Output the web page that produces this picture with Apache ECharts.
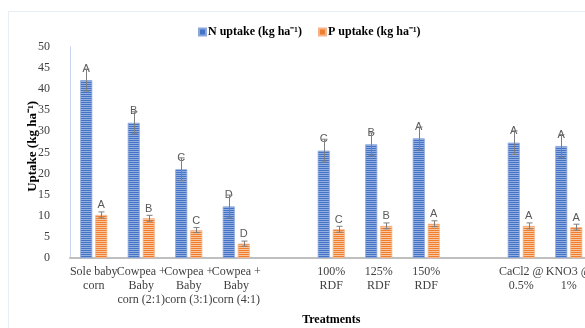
<!DOCTYPE html>
<html>
<head>
<meta charset="utf-8">
<script src="https://cdn.jsdelivr.net/npm/echarts@6/dist/echarts.min.js"></script>
<style>
html,body{margin:0;padding:0;background:#fff;}
#chart{width:585px;height:328px;}
</style>
</head>
<body>
<div id="chart"></div>
<script>
// ---- data ----
const categories = ['Sole baby\ncorn', 'Cowpea +\nBaby\ncorn (2:1)', 'Cowpea +\nBaby\ncorn (3:1)', 'Cowpea +\nBaby\ncorn (4:1)', '', '100%\nRDF', '125%\nRDF', '150%\nRDF', '', 'CaCl2 @\n0.5%', 'KNO3 @\n1%'];
const nUptake = [42.1, 32.0, 21.0, 12.2, null, 25.4, 26.9, 28.3, null, 27.3, 26.5];
const nErr    = [2.6, 2.6, 2.7, 2.7, null, 2.7, 2.7, 2.7, null, 2.8, 2.7];
const nLetters = ['A', 'B', 'C', 'D', '', 'C', 'B', 'A', '', 'A', 'A'];
const pUptake = [10.2, 9.4, 6.6, 3.4, null, 6.8, 7.6, 8.1, null, 7.6, 7.3];
const pErr    = [0.7, 0.7, 0.6, 0.6, null, 0.7, 0.7, 0.7, null, 0.7, 0.7];
const pLetters = ['A', 'B', 'C', 'D', '', 'C', 'B', 'A', '', 'A', 'A'];
const yTicks = [0, 5, 10, 15, 20, 25, 30, 35, 40, 45, 50];

function stripe(dark, light) {
  const c = document.createElement('canvas');
  c.width = 2; c.height = 2;
  const g = c.getContext('2d');
  g.fillStyle = dark; g.fillRect(0, 0, 2, 1);
  g.fillStyle = light; g.fillRect(0, 1, 2, 1);
  return { image: c, repeat: 'repeat' };
}
const blueFill = stripe('#4472C4', '#93AEE0');
const orangeFill = stripe('#EF7E2E', '#F8C7A0');

function errRows(vals, errs) {
  const rows = [];
  vals.forEach((v, i) => { if (v != null) rows.push([i, v, errs[i]]); });
  return rows;
}
function errRender(offset) {
  return function (params, api) {
    const i = api.value(0), v = api.value(1), e = api.value(2);
    const t = api.coord([i, v + e]);
    const b = api.coord([i, v - e]);
    const x = Math.round(t[0] + offset) + 0.5;
    const st = { stroke: '#7F7F7F', lineWidth: 1 };
    return {
      type: 'group',
      children: [
        { type: 'line', shape: { x1: x, y1: t[1], x2: x, y2: b[1] }, style: st },
        { type: 'line', shape: { x1: x - 3, y1: t[1], x2: x + 3, y2: t[1] }, style: st },
        { type: 'line', shape: { x1: x - 3, y1: b[1], x2: x + 3, y2: b[1] }, style: st }
      ]
    };
  };
}

const chart = echarts.init(document.getElementById('chart'), null, { renderer: 'canvas' });
const serif = '"Liberation Serif", "Times New Roman", serif';
const letterLabel = (arr, d) => ({
  show: true, position: 'top', distance: d,
  fontFamily: '"Liberation Sans", Arial, sans-serif', fontSize: 11, color: '#595959',
  formatter: p => arr[p.dataIndex]
});

chart.setOption({
  animation: false,
  backgroundColor: '#fff',
  graphic: [{
    type: 'rect', shape: { x: 8.5, y: 11.5, width: 600, height: 340 },
    style: { fill: 'none', stroke: '#E9EDF5', lineWidth: 1 }, silent: true, z: -10
  }],
  legend: {
    top: 21, left: 193,
    itemWidth: 7, itemHeight: 7, itemGap: 16,
    icon: 'rect',
    textStyle: { fontFamily: serif, fontWeight: 'bold', fontSize: 12, color: '#000', padding: [0, 0, 0, -3] },
    data: [
      { name: 'N uptake (kg ha⁻¹)', itemStyle: { color: '#4472C4' } },
      { name: 'P uptake (kg ha⁻¹)', itemStyle: { color: '#ED7D31' } }
    ]
  },
  grid: { left: 70, right: -7.5, top: 46.7, bottom: 70, containLabel: false, outerBoundsMode: 'none' },
  xAxis: {
    type: 'category',
    data: categories,
    name: 'Treatments',
    nameLocation: 'middle',
    nameGap: 56,
    nameMoveOverlap: false,
    nameTextStyle: { fontFamily: serif, fontWeight: 'bold', fontSize: 12, color: '#000' },
    axisLine: { lineStyle: { color: '#BFBFBF', width: 2 } },
    axisTick: { show: false },
    axisLabel: { interval: 0, fontFamily: serif, fontSize: 12, color: '#404040', lineHeight: 14, margin: 7 }
  },
  yAxis: {
    type: 'value',
    min: yTicks[0], max: yTicks[yTicks.length - 1], interval: 5,
    name: 'Uptake (kg ha⁻¹)',
    nameLocation: 'middle',
    nameGap: 31,
    nameMoveOverlap: false,
    nameTextStyle: { fontFamily: serif, fontWeight: 'bold', fontSize: 13, color: '#000', padding: [0, 0, 0, 12] },
    axisLine: { show: true, lineStyle: { color: '#C9D6EE', width: 1 } },
    axisTick: { show: false },
    splitLine: { show: false },
    axisLabel: { fontFamily: serif, fontSize: 12, color: '#404040', margin: 20 }
  },
  series: [
    {
      name: 'N uptake (kg ha⁻¹)', type: 'bar', data: nUptake,
      barWidth: 12, barGap: '25%',
      itemStyle: { color: blueFill, borderColor: '#8AA6DB', borderWidth: 0.8 },
      label: letterLabel(nLetters, 6)
    },
    {
      name: 'P uptake (kg ha⁻¹)', type: 'bar', data: pUptake,
      barWidth: 12, barGap: '25%',
      itemStyle: { color: orangeFill, borderColor: '#F6B48A', borderWidth: 0.8 },
      label: letterLabel(pLetters, 4)
    },
    {
      type: 'custom', renderItem: errRender(-7.5), data: errRows(nUptake, nErr),
      encode: { x: 0, y: 1 }, z: 5, silent: true
    },
    {
      type: 'custom', renderItem: errRender(7.5), data: errRows(pUptake, pErr),
      encode: { x: 0, y: 1 }, z: 5, silent: true
    }
  ]
});
</script>
</body>
</html>
